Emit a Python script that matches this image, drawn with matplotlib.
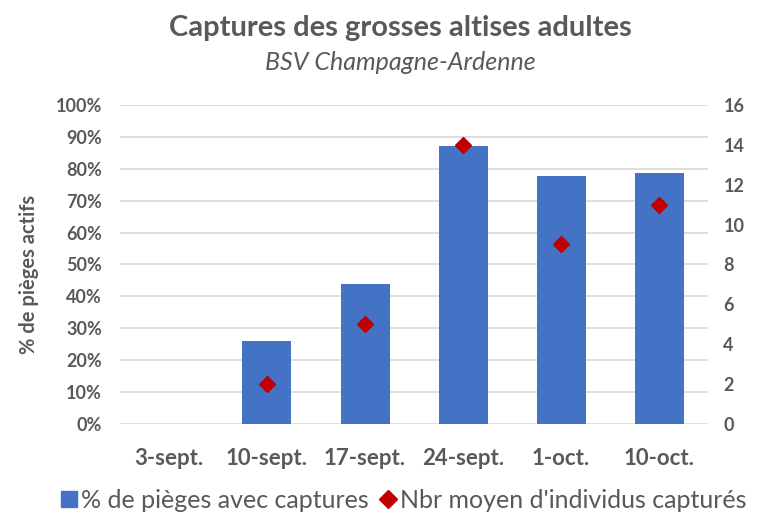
import matplotlib
matplotlib.use("Agg")
import matplotlib.pyplot as plt
from matplotlib.lines import Line2D

# data
dates = ["3-sept.", "10-sept.", "17-sept.", "24-sept.", "1-oct.", "10-oct."]
pct_pieges = [None, 0.26, 0.44, 0.871, 0.778, 0.785]
nbr_moyen = [None, 2, 5, 14, 9, 11]
pct_ticks = [i / 10 for i in range(11)]
nbr_ticks = list(range(0, 17, 2))

GREY = "#595959"
BLUE = "#4472C4"
RED = "#C00000"
plt.rcParams["font.family"] = ["Lato", "DejaVu Sans"]

fig = plt.figure(figsize=(7.59, 5.16), dpi=100)
ax = fig.add_axes([0.158, 0.178, 0.775, 0.619])
ax2 = ax.twinx()

x = list(range(len(dates)))
bx = [i for i, v in zip(x, pct_pieges) if v is not None]
bv = [v for v in pct_pieges if v is not None]
ax.bar(bx, bv, width=0.5, color=BLUE, zorder=2)

mx = [i for i, v in zip(x, nbr_moyen) if v is not None]
mv = [v for v in nbr_moyen if v is not None]
ax2.plot(mx, mv, linestyle="none", marker="D", markersize=8, color=RED, zorder=3)

ax.set_xlim(-0.5, len(dates) - 0.5)
ax.set_ylim(0, 1)
ax2.set_ylim(0, 16)
ax.set_yticks(pct_ticks)
ax.set_yticklabels([f"{int(round(t * 100))}%" for t in pct_ticks])
ax2.set_yticks(nbr_ticks)
ax.set_xticks(x)
ax.set_xticklabels(dates)

ax.grid(axis="y", color="#D9D9D9", linewidth=1.2, zorder=0)
ax.set_axisbelow(True)
for a in (ax, ax2):
    for s in a.spines.values():
        s.set_visible(False)
    a.tick_params(length=0, colors=GREY, labelsize=13)
    for lbl in a.get_yticklabels():
        lbl.set_fontweight("bold")
ax.tick_params(axis="y", pad=13)
ax2.tick_params(axis="y", pad=11)
ax.tick_params(axis="x", pad=17, labelsize=16)
for lbl in ax.get_xticklabels():
    lbl.set_fontweight("bold")

ax.set_ylabel("% de pièges actifs", fontsize=14.5, fontweight="bold", color=GREY)
ax.yaxis.set_label_coords(-0.138, 0.47)

fig.text(0.528, 0.945, "Captures des grosses altises adultes", ha="center", va="center",
         fontsize=21, fontweight="bold", color=GREY)
fig.text(0.528, 0.878, "BSV Champagne-Ardenne", ha="center", va="center",
         fontsize=18, style="italic", color=GREY)

handles = [
    Line2D([], [], linestyle="none", marker="s", markersize=11, color=BLUE),
    Line2D([], [], linestyle="none", marker="D", markersize=9, color=RED),
]
fig.legend(handles, ["% de pièges avec captures", "Nbr moyen d'individus capturés"],
           loc="center", bbox_to_anchor=(0.53, 0.03), ncol=2, frameon=False,
           fontsize=18, labelcolor=GREY, handletextpad=0.05, columnspacing=0.3,
           handlelength=0.9)

fig.savefig("out.png", dpi=100, facecolor="white")
